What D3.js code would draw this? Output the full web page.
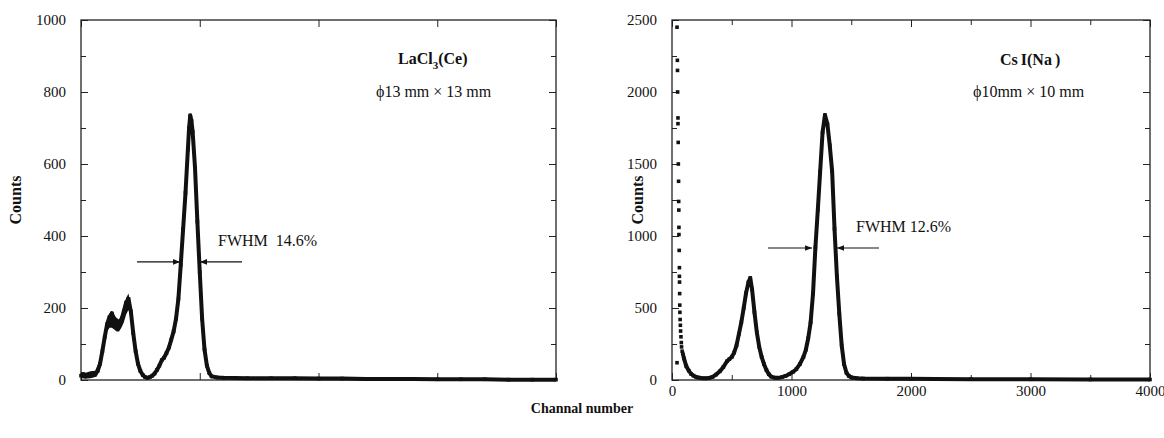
<!DOCTYPE html>
<html>
<head>
<meta charset="utf-8">
<script src="https://cdn.jsdelivr.net/npm/d3@7"></script>
<style>
  body { margin: 0; background: #fff; }
  text { font-family: "Liberation Serif", "Times New Roman", serif; fill: #111; }
</style>
</head>
<body>
<svg id="chart" width="1164" height="438"></svg>
<script>
// [channel, counts]
const lacl3Spectrum = [
  [0,12],[20,16],[40,10],[60,14],[80,12],[100,18],[120,15],[140,25],[160,45],[180,80],
  [200,120],[220,155],[240,175],[260,185],[280,168],[300,155],[320,150],[340,165],[360,190],[380,215],
  [400,225],[420,190],[440,130],[460,80],[480,45],[500,25],[520,14],[540,8],[560,6],[580,8],
  [600,12],[620,18],[640,28],[660,40],[680,55],[700,62],[720,75],[740,90],[760,112],[780,135],
  [800,170],[820,225],[840,320],[860,420],[880,520],[900,640],[910,700],[920,735],[930,720],[940,690],
  [960,590],[980,440],[1000,300],[1020,170],[1040,85],[1060,40],[1080,20],[1100,10],[1150,7],[1200,6],
  [1400,5],[1600,5],[1800,5],[2000,4],[2200,4],[2400,3],[2600,3],[2800,3],[3000,2],[3200,2],
  [3400,2],[3600,1],[3800,1],[4000,1]
]
// [channel, low, high] spread of the noisy low-channel part of the LaCl3 spectrum
const lacl3Spread = [
  [0,5,22],[40,4,20],[80,5,24],[120,8,26],[160,35,55],[200,105,135],[220,135,168],[240,145,185],
  [260,145,192],[280,140,180],[300,135,172],[320,135,168],[340,145,182],[360,160,205],[380,182,228],
  [400,195,240],[420,168,205],[440,118,142],[460,72,88]
]
const csiSpectrum = [
  [90,185],[100,150],[120,95],[140,65],[160,42],[180,30],[200,22],[220,17],[250,13],[280,12],
  [310,14],[340,22],[370,38],[400,60],[430,90],[460,130],[480,145],[500,160],[520,190],[540,240],
  [560,320],[580,400],[600,500],[620,605],[640,680],[655,708],[670,630],[690,470],[710,330],[730,230],
  [750,160],[770,110],[790,70],[810,40],[830,23],[860,16],[890,15],[920,20],[950,28],[980,40],
  [1010,55],[1040,75],[1070,110],[1100,160],[1120,210],[1140,290],[1160,400],[1180,600],[1200,920],[1220,1180],
  [1240,1450],[1260,1720],[1280,1840],[1300,1780],[1320,1630],[1340,1450],[1360,1050],[1380,720],[1400,460],[1420,240],
  [1440,110],[1460,50],[1480,28],[1500,18],[1550,12],[1600,10],[1800,9],[2000,8],[2200,7],[2500,6],
  [3000,5],[3500,4],[4000,3]
]
// isolated points on the steep low-channel edge of the CsI spectrum
const csiEdgeDots = [
  [42,2450],[45,2220],[46,2150],[47,2000],[50,1820],[50,1780],[52,1650],[53,1500],[55,1380],[56,1240],
  [57,1180],[58,1060],[58,1010],[60,900],[62,780],[62,720],[63,680],[64,600],[65,520],[66,470],
  [68,420],[70,380],[72,340],[75,300],[78,260],[80,230],[85,200],[42,120]
]
const channelTicks = [0, 1000, 2000, 3000, 4000]
const lacl3CountTicks = [0, 200, 400, 600, 800, 1000]
const csiCountTicks = [0, 500, 1000, 1500, 2000, 2500]

const serif = '"Liberation Serif", "Times New Roman", serif'
const svg = d3.select('#chart')

const panels = [
  {
    left: 81, right: 556, yMax: 1000, yTicks: lacl3CountTicks, yMinorStep: 100,
    xMinor: false, xLabels: false, spectrum: lacl3Spectrum, spread: lacl3Spread, dots: [],
    crystal: [['LaCl', 0, 0], ['3', 0, 5], ['(Ce)', 0, -5]], size: 'ϕ13 mm × 13 mm',
    labelAt: [398, 64], sizeAt: [376, 97],
    fwhm: 'FWHM  14.6%', fwhmAt: [218, 246],
    arrows: { y: 328, left: [472, 834], right: [1356, 1002] },
    countsX: 21
  },
  {
    left: 672, right: 1150, yMax: 2500, yTicks: csiCountTicks, yMinorStep: 250,
    xMinor: true, xLabels: true, spectrum: csiSpectrum, spread: [], dots: csiEdgeDots,
    crystal: [['Cs', 0, 0], ['I(Na', 3, 0], [')', 3, 0]], size: 'ϕ10mm × 10 mm',
    labelAt: [1000, 65], sizeAt: [973, 97],
    fwhm: 'FWHM 12.6%', fwhmAt: [856, 232],
    arrows: { y: 917, left: [803, 1172], right: [1732, 1381] },
    countsX: 643
  }
]
const plotTop = 20, plotBottom = 380

svg.append('defs').append('marker')
  .attr('id', 'head')
  .attr('viewBox', '0 0 10 10')
  .attr('refX', 10).attr('refY', 5)
  .attr('markerWidth', 10).attr('markerHeight', 7)
  .attr('markerUnits', 'userSpaceOnUse')
  .attr('orient', 'auto')
  .append('path').attr('d', 'M0,1 L10,5 L0,9 Z').attr('fill', '#111')

panels.forEach(p => {
  const x = d3.scaleLinear().domain([0, 4000]).range([p.left, p.right])
  const y = d3.scaleLinear().domain([0, p.yMax]).range([plotBottom, plotTop])
  const g = svg.append('g')

  const yMinor = d3.range(p.yMinorStep, p.yMax, p.yMinorStep * 2)
  const xMinor = p.xMinor ? d3.range(500, 4000, 1000) : []
  const style = a => a.attr('font-family', serif)
    .call(s => s.select('.domain').remove())
    .call(s => s.selectAll('line').attr('stroke', '#222').attr('stroke-width', 1))
    .call(s => s.selectAll('text').attr('font-size', 15).attr('fill', '#111'))

  // left axis with labels, and mirrored ticks
  g.append('g').attr('transform', `translate(${p.left},0)`)
    .call(d3.axisLeft(y).tickValues(p.yTicks).tickSize(-7).tickPadding(15).tickFormat(d3.format('d')))
    .call(style)
  g.append('g').attr('transform', `translate(${p.left},0)`)
    .call(d3.axisLeft(y).tickValues(yMinor).tickSize(-5).tickFormat('')).call(style)
  g.append('g').attr('transform', `translate(${p.right},0)`)
    .call(d3.axisRight(y).tickValues(p.yTicks).tickSize(-7).tickFormat('')).call(style)
  g.append('g').attr('transform', `translate(${p.right},0)`)
    .call(d3.axisRight(y).tickValues(yMinor).tickSize(-5).tickFormat('')).call(style)

  const xb = d3.axisBottom(x).tickValues(channelTicks).tickSize(-7).tickPadding(5)
    .tickFormat(p.xLabels ? d3.format('d') : '')
  g.append('g').attr('transform', `translate(0,${plotBottom})`).call(xb).call(style)
  g.append('g').attr('transform', `translate(0,${plotBottom})`)
    .call(d3.axisBottom(x).tickValues(xMinor).tickSize(-5).tickFormat('')).call(style)
  g.append('g').attr('transform', `translate(0,${plotTop})`)
    .call(d3.axisTop(x).tickValues(channelTicks).tickSize(-7).tickFormat('')).call(style)
  g.append('g').attr('transform', `translate(0,${plotTop})`)
    .call(d3.axisTop(x).tickValues(xMinor).tickSize(-5).tickFormat('')).call(style)

  g.append('rect')
    .attr('x', p.left).attr('y', plotTop)
    .attr('width', p.right - p.left).attr('height', plotBottom - plotTop)
    .attr('fill', 'none').attr('stroke', '#222').attr('stroke-width', 1.3)

  // spectrum
  const area = d3.area().x(d => x(d[0])).y0(d => y(d[1])).y1(d => y(d[2]))
  g.append('path').datum(p.spread).attr('d', area).attr('fill', '#111')
  const line = d3.line().x(d => x(d[0])).y(d => y(d[1]))
  g.append('path').datum(p.spectrum)
    .attr('d', line)
    .attr('fill', 'none').attr('stroke', '#111')
    .attr('stroke-width', 4).attr('stroke-linejoin', 'round')
  g.selectAll('.dot').data(p.spectrum.concat(p.dots)).join('rect')
    .attr('class', 'dot')
    .attr('x', d => x(d[0]) - 1.8).attr('y', d => y(d[1]) - 1.8)
    .attr('width', 3.6).attr('height', 3.6).attr('fill', '#111')

  // crystal name
  const name = g.append('text')
    .attr('x', p.labelAt[0]).attr('y', p.labelAt[1])
    .attr('font-size', 16).attr('font-weight', 'bold')
  p.crystal.forEach(([t, dx, dy]) => {
    name.append('tspan').attr('dx', dx).attr('dy', dy)
      .attr('font-size', dy > 0 ? 11 : 16).text(t)
  })
  g.append('text').attr('x', p.sizeAt[0]).attr('y', p.sizeAt[1])
    .attr('font-size', 16).text(p.size)

  // FWHM annotation
  g.append('text').attr('x', p.fwhmAt[0]).attr('y', p.fwhmAt[1])
    .attr('font-size', 16).style('white-space', 'pre').text(p.fwhm)
  ;[p.arrows.left, p.arrows.right].forEach(a => {
    g.append('line')
      .attr('x1', x(a[0])).attr('x2', x(a[1]))
      .attr('y1', y(p.arrows.y)).attr('y2', y(p.arrows.y))
      .attr('stroke', '#111').attr('stroke-width', 1.1)
      .attr('marker-end', 'url(#head)')
  })

  g.append('text')
    .attr('transform', `translate(${p.countsX},200) rotate(-90)`)
    .attr('text-anchor', 'middle')
    .attr('font-size', 16).attr('font-weight', 'bold')
    .text('Counts')
})

svg.append('text')
  .attr('x', 582).attr('y', 413)
  .attr('text-anchor', 'middle')
  .attr('font-size', 14).attr('font-weight', 'bold')
  .text('Channal number')
</script>
</body>
</html>
